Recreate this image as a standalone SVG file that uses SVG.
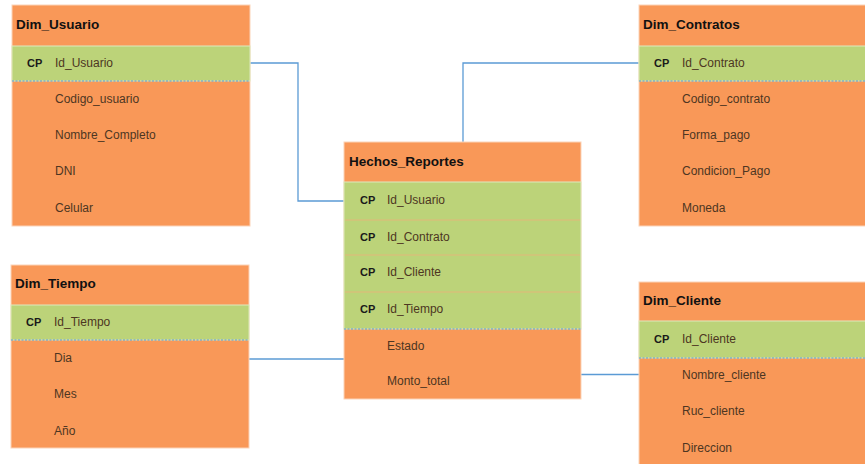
<svg xmlns="http://www.w3.org/2000/svg" width="865" height="464" viewBox="0 0 865 464">
<style>
.box{fill:#F99858;stroke:#FBD3B8;stroke-width:1}
.pk{fill:#BCD379;stroke:#DDE9BE;stroke-width:1}
.sep{stroke:#E3B77A;stroke-width:1}
.dash{stroke:#5B9BD5;stroke-width:1;stroke-dasharray:2 1.5}
.title{font-family:"Liberation Sans",Arial,sans-serif;font-weight:bold;font-size:13.5px;fill:#111}
.cp{font-family:"Liberation Sans",Arial,sans-serif;font-weight:bold;font-size:11px;fill:#1a1a1a}
.f{font-family:"Liberation Sans",Arial,sans-serif;font-size:12px;fill:#4d3622}
.conn{fill:none;stroke:#5B9BD5;stroke-width:1.3}
</style>
<rect width="865" height="464" fill="#fff"/>
<g id="connectors">
<polyline class="conn" points="250,63 298,63 298,201 344,201"/>
<polyline class="conn" points="463,142 463,63 639,63"/>
<line class="conn" x1="249" y1="359" x2="344" y2="359"/>
<polyline class="conn" points="581,374.5 639,374.5"/>
</g>
<g id="Dim_Usuario">
<rect class="box" x="12" y="5" width="238" height="221"/>
<rect class="pk" x="12" y="46" width="238" height="35"/>
<line class="dash" x1="12" y1="81" x2="250" y2="81"/>
<text class="title" x="16" y="29">Dim_Usuario</text>
<text class="cp" x="27" y="67">CP</text>
<text class="f" x="55" y="67">Id_Usuario</text>
<text class="f" x="55" y="103">Codigo_usuario</text>
<text class="f" x="55" y="139">Nombre_Completo</text>
<text class="f" x="55" y="175">DNI</text>
<text class="f" x="55" y="212">Celular</text>
</g>
<g id="Dim_Contratos">
<rect class="box" x="639" y="5" width="240" height="221"/>
<rect class="pk" x="639" y="46" width="240" height="35"/>
<line class="dash" x1="639" y1="81" x2="865" y2="81"/>
<text class="title" x="643" y="29">Dim_Contratos</text>
<text class="cp" x="654" y="67">CP</text>
<text class="f" x="682" y="67">Id_Contrato</text>
<text class="f" x="682" y="103">Codigo_contrato</text>
<text class="f" x="682" y="139">Forma_pago</text>
<text class="f" x="682" y="175">Condicion_Pago</text>
<text class="f" x="682" y="212">Moneda</text>
</g>
<g id="Hechos_Reportes">
<rect class="box" x="344" y="142" width="237" height="257"/>
<rect class="pk" x="344" y="182" width="237" height="147"/>
<line class="sep" x1="345" y1="220" x2="580" y2="220"/>
<line class="sep" x1="345" y1="255" x2="580" y2="255"/>
<line class="sep" x1="345" y1="292" x2="580" y2="292"/>
<line class="dash" x1="344" y1="329" x2="581" y2="329"/>
<text class="title" x="349" y="166">Hechos_Reportes</text>
<text class="cp" x="360" y="204">CP</text>
<text class="f" x="387" y="204">Id_Usuario</text>
<text class="cp" x="360" y="241">CP</text>
<text class="f" x="387" y="241">Id_Contrato</text>
<text class="cp" x="360" y="276">CP</text>
<text class="f" x="387" y="276">Id_Cliente</text>
<text class="cp" x="360" y="313">CP</text>
<text class="f" x="387" y="313">Id_Tiempo</text>
<text class="f" x="387" y="350">Estado</text>
<text class="f" x="387" y="385">Monto_total</text>
</g>
<g id="Dim_Tiempo">
<rect class="box" x="11" y="265" width="238" height="183"/>
<rect class="pk" x="11" y="305" width="238" height="35"/>
<line class="dash" x1="11" y1="340" x2="249" y2="340"/>
<text class="title" x="15" y="288">Dim_Tiempo</text>
<text class="cp" x="26" y="326">CP</text>
<text class="f" x="54" y="326">Id_Tiempo</text>
<text class="f" x="54" y="362">Dia</text>
<text class="f" x="54" y="398">Mes</text>
<text class="f" x="54" y="435">Año</text>
</g>
<g id="Dim_Cliente">
<rect class="box" x="639" y="282" width="240" height="200"/>
<rect class="pk" x="639" y="321" width="240" height="37"/>
<line class="dash" x1="639" y1="358" x2="865" y2="358"/>
<text class="title" x="643" y="305">Dim_Cliente</text>
<text class="cp" x="654" y="343">CP</text>
<text class="f" x="682" y="343">Id_Cliente</text>
<text class="f" x="682" y="379">Nombre_cliente</text>
<text class="f" x="682" y="415">Ruc_cliente</text>
<text class="f" x="682" y="452">Direccion</text>
</g>
</svg>
